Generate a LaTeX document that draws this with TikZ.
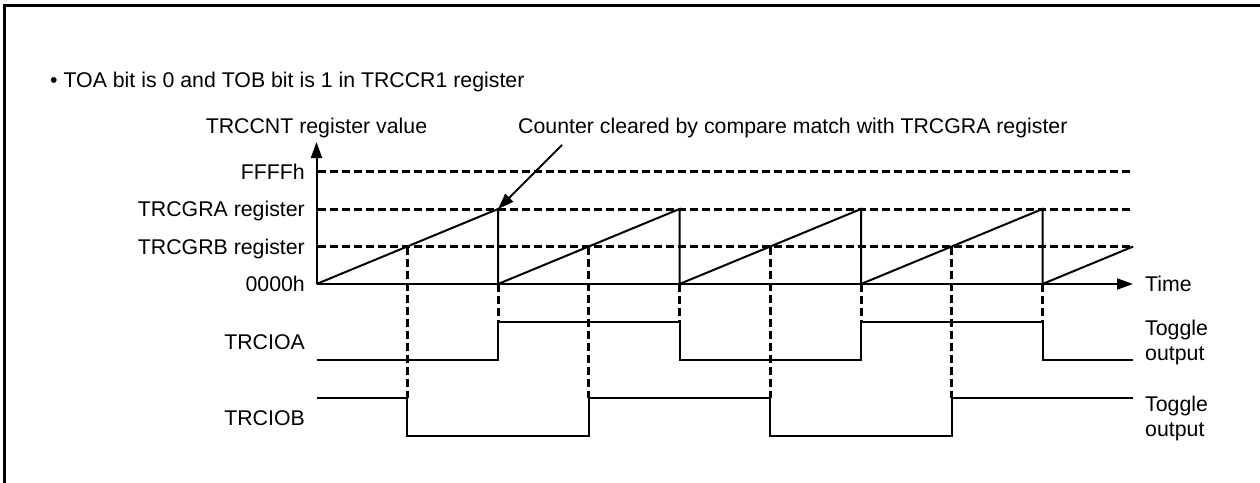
\documentclass[tikz,border=0pt]{standalone}
\usepackage{fontspec}
\setmainfont{Liberation Sans}
\usetikzlibrary{arrows.meta}
\begin{document}
\begin{tikzpicture}[x=1pt,y=-1pt,
  lbl/.style={inner sep=0pt,font=\fontsize{21.3}{25.6}\selectfont},
  solidln/.style={line width=2pt},
  dashln/.style={line width=3pt,dash pattern=on 8pt off 4pt},
  tip/.style={-{Triangle[length=16pt,width=11pt]}},
  frame/.style={line width=3pt}]
\useasboundingbox (0,0) rectangle (1260,482);
% frame
\draw[frame] (4.5,484) -- (4.5,5) -- (1262,5);
% texts
\node[lbl,anchor=base west] (title) at (50,87) {• TOA bit is 0 and TOB bit is 1 in TRCCR1 register};
\node[lbl,anchor=base] (ylab) at (316.5,133.3) {TRCCNT register value};
\node[lbl,anchor=base west] (note) at (518,133.3) {Counter cleared by compare match with TRCGRA register};
\node[lbl,anchor=base east] (lF) at (305,179.1) {FFFFh};
\node[lbl,anchor=base east] (lA) at (305,216.6) {TRCGRA register};
\node[lbl,anchor=base east] (lB) at (305,254.1) {TRCGRB register};
\node[lbl,anchor=base east] (l0) at (305,291.6) {0000h};
\node[lbl,anchor=base west] (time) at (1145,291.6) {Time};
\node[lbl,anchor=base east] (ioa) at (305,349.3) {TRCIOA};
\node[lbl,anchor=base east] (iob) at (305,425) {TRCIOB};
\node[lbl,anchor=base west] (ta1) at (1145,335.7) {Toggle};
\node[lbl,anchor=base west] (ta2) at (1145,360.7) {output};
\node[lbl,anchor=base west] (tb1) at (1145,411.7) {Toggle};
\node[lbl,anchor=base west] (tb2) at (1145,436.7) {output};
% coordinates
\coordinate (O) at (316.5,284);
\coordinate (ytop) at (316.5,142);
\coordinate (xend) at (1133,284);
\coordinate (m1) at (498,209);
\coordinate (nstart) at (562,145);
% horizontal dashed levels
\foreach \yy in {171.5,209,246.5}
  \draw[dashln] (318,\yy) -- (1132,\yy);
% vertical dashed lines at compare match B
\foreach \xx in {407.25,588.75,770.25,951.75}
  \draw[dashln] (\xx,246.5) -- (\xx,398.3);
% vertical dashed lines at compare match A (clear)
\foreach \xx in {498,679.5,861,1042.5}
  \draw[dashln] (\xx,284) -- (\xx,322.3);
% axes
\draw[solidln,tip] (O) -- (ytop);
\draw[solidln,tip] (O) -- (xend);
% sawtooth
\draw[solidln,line join=miter] (O) -- (498,209) -- (498,284) -- (679.5,209) -- (679.5,284)
  -- (861,209) -- (861,284) -- (1042.5,209) -- (1042.5,284) -- (1133.25,246.5);
% TRCIOA
\draw[solidln] (316.5,360) -- (498,360) -- (498,322.3) -- (679.5,322.3) -- (679.5,360)
  -- (861,360) -- (861,322.3) -- (1042.5,322.3) -- (1042.5,360) -- (1133,360);
% TRCIOB
\draw[solidln] (316.5,398.3) -- (407.25,398.3) -- (407.25,435.7) -- (588.75,435.7) -- (588.75,398.3)
  -- (770.25,398.3) -- (770.25,435.7) -- (951.75,435.7) -- (951.75,398.3) -- (1133,398.3);
% note arrow
\draw[solidln,tip] (nstart) -- (m1);
\end{tikzpicture}
\end{document}
